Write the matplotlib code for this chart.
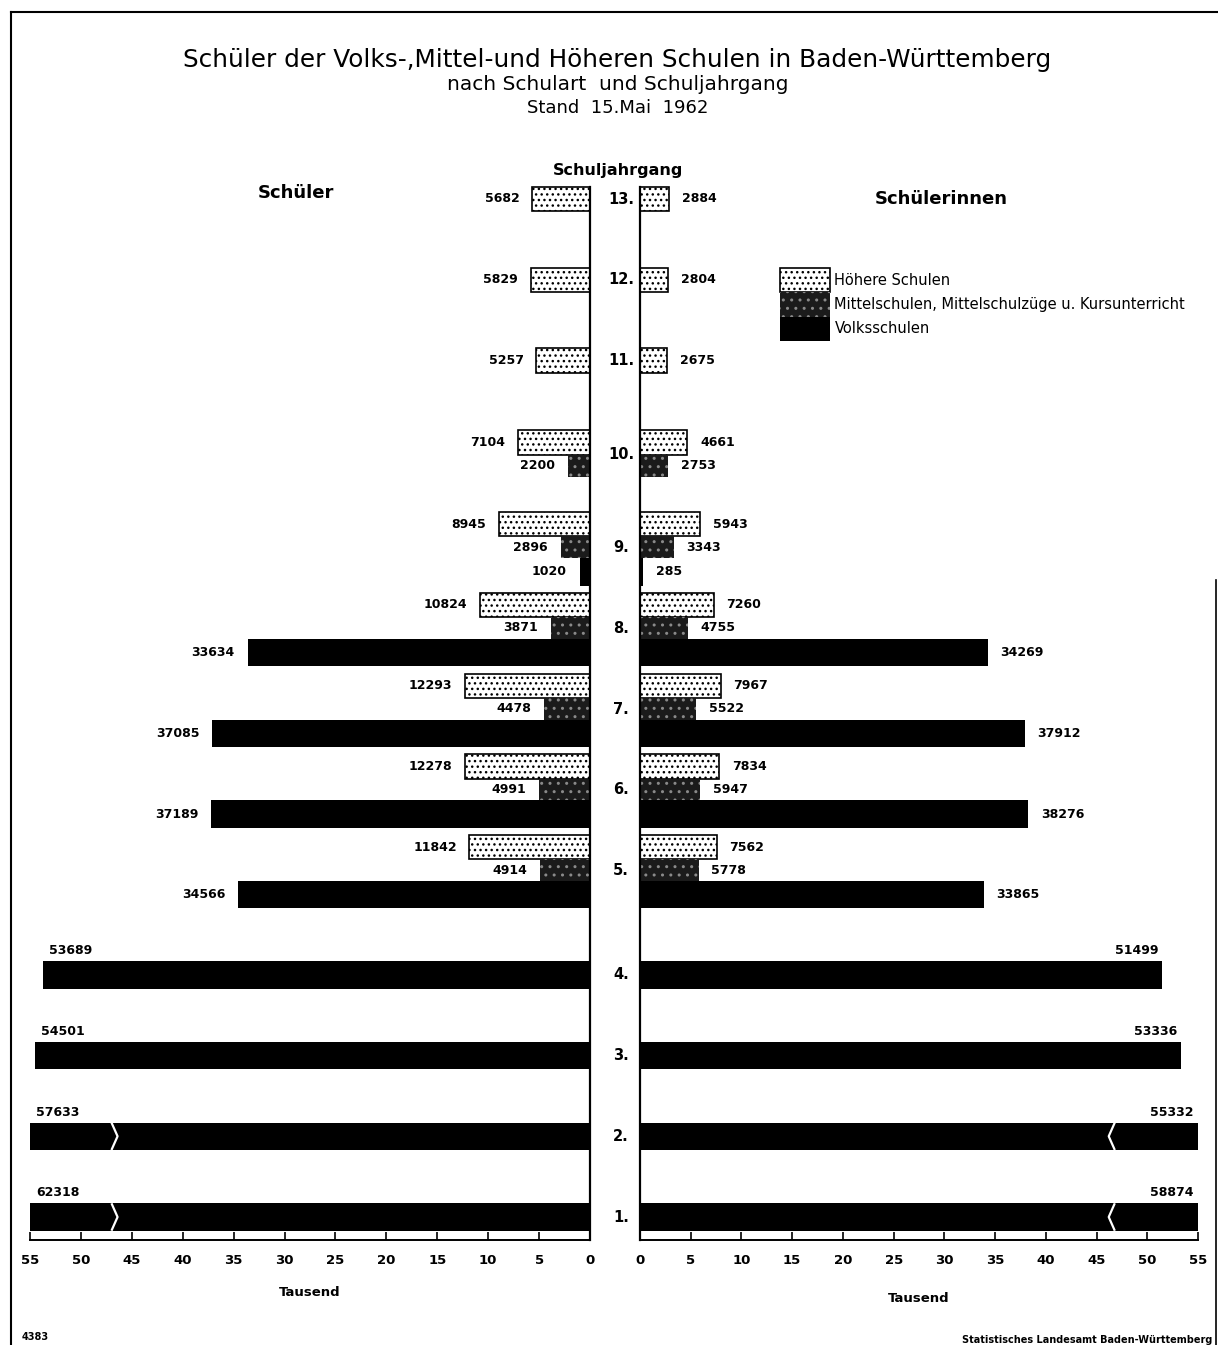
import matplotlib
matplotlib.use("Agg")
import matplotlib.pyplot as plt
from matplotlib.patches import Patch
from matplotlib.lines import Line2D
from matplotlib import transforms

plt.rcParams['font.family'] = ['DejaVu Sans']
plt.rcParams['hatch.linewidth'] = 1.0

# Schuljahrgang, von oben nach unten
grades = [13, 12, 11, 10, 9, 8, 7, 6, 5, 4, 3, 2, 1]

# Schüler (männlich)
boys_hoehere = [5682, 5829, 5257, 7104, 8945, 10824, 12293, 12278, 11842, 0, 0, 0, 0]
boys_mittel = [0, 0, 0, 2200, 2896, 3871, 4478, 4991, 4914, 0, 0, 0, 0]
boys_volks = [0, 0, 0, 0, 1020, 33634, 37085, 37189, 34566, 53689, 54501, 57633, 62318]

# Schülerinnen
girls_hoehere = [2884, 2804, 2675, 4661, 5943, 7260, 7967, 7834, 7562, 0, 0, 0, 0]
girls_mittel = [0, 0, 0, 2753, 3343, 4755, 5522, 5947, 5778, 0, 0, 0, 0]
girls_volks = [0, 0, 0, 0, 285, 34269, 37912, 38276, 33865, 51499, 53336, 55332, 58874]

ticks = [0, 5, 10, 15, 20, 25, 30, 35, 40, 45, 50, 55]
XMAX = 55

# zusaetzlicher Abstand vor einzelnen Jahrgaengen
extra_gap = {10: 0.16, 9: 0.16, 4: 0.29}
pos = []
y = 0.0
for i, g in enumerate(grades):
    if i > 0:
        y += 1 + extra_gap.get(g, 0)
    pos.append(y)

heights = [0.30, 0.27, 0.34]
styles = [
    dict(facecolor='white', edgecolor='black', hatch='...', linewidth=1.2),
    dict(facecolor='#1b1b1b', edgecolor='#8a8a8a', hatch='..', linewidth=0),
    dict(facecolor='black', edgecolor='black', linewidth=0),
]

W, H = 1218, 1345
fig = plt.figure(figsize=(W / 100, H / 100), dpi=100)
ax_l = fig.add_axes([30 / W, 1 - 1240 / H, 560 / W, 1090 / H])
ax_r = fig.add_axes([640 / W, 1 - 1240 / H, 558 / W, 1090 / H])

ylim = ((1240 - 199) / 80.73, (150 - 199) / 80.73)


def draw_side(ax, series, side):
    for gi, g in enumerate(grades):
        vals = [s[gi] for s in series]
        present = [k for k in range(3) if vals[k] > 0]
        tops = []
        t = 0.0
        for k in present:
            tops.append(t)
            t += heights[k]
        centers = [tp + heights[k] / 2 for tp, k in zip(tops, present)]
        shift = pos[gi] - sum(centers) / len(centers)
        for k, c in zip(present, centers):
            yc = c + shift
            v = vals[k] / 1000
            ax.barh(yc, v, height=heights[k], **styles[k])
            lab = str(vals[k])
            if v > 50:
                # Beschriftung oberhalb des Balkens
                ax.text(min(v, XMAX) - (0.6 if side == 'l' else 0.4),
                        yc - heights[k] / 2 - 0.05, lab,
                        ha='left' if side == 'l' else 'right', va='bottom',
                        fontsize=9, fontweight='bold')
            else:
                ax.text(v + 1.25, yc, lab,
                        ha='right' if side == 'l' else 'left', va='center',
                        fontsize=9, fontweight='bold')
            if v > XMAX:
                # Bruchstelle
                bx = 47 if side == 'l' else 46.8
                hh = heights[k] / 2
                ax.plot([bx, bx - 0.6, bx], [yc - hh, yc, yc + hh],
                        color='white', lw=1.6, solid_capstyle='butt')
    top = pos[0] - heights[0] / 2
    ax.plot([0, 0], [top, ylim[0]], color='black', lw=1.6, clip_on=False)


draw_side(ax_l, [boys_hoehere, boys_mittel, boys_volks], 'l')
draw_side(ax_r, [girls_hoehere, girls_mittel, girls_volks], 'r')

for ax, lp in ((ax_l, 14), (ax_r, 18)):
    ax.set_ylim(*ylim)
    ax.set_xlim(0, XMAX)
    for s in ('top', 'left', 'right'):
        ax.spines[s].set_visible(False)
    ax.spines['bottom'].set_linewidth(1.4)
    ax.set_yticks([])
    ax.set_xticks(ticks)
    ax.set_xticklabels([str(t) for t in ticks])
    ax.tick_params(axis='x', direction='in', length=6, width=1.2,
                   labelsize=9.5, pad=10)
    for lab in ax.get_xticklabels():
        lab.set_fontweight('bold')
    ax.set_xlabel('Tausend', fontsize=9.5, fontweight='bold', labelpad=lp)
ax_l.set_xlim(XMAX, 0)

# Jahrgangsbeschriftung in der Mitte
tr = transforms.blended_transform_factory(fig.transFigure, ax_r.transData)
for g, p in zip(grades, pos):
    ax_r.text(621 / W, p, f'{g}.', transform=tr, ha='center', va='center',
              fontsize=10.5, fontweight='bold')

# Legende
handles = [Patch(**styles[0]), Patch(**styles[1]), Patch(**styles[2])]
labels = ['Höhere Schulen', 'Mittelschulen, Mittelschulzüge u. Kursunterricht',
          'Volksschulen']
fig.legend(handles, labels, loc='upper left',
           bbox_to_anchor=(780 / W, 1 - 268 / H), bbox_transform=fig.transFigure,
           frameon=False, fontsize=10.5, borderpad=0, borderaxespad=0,
           handlelength=3.43, handleheight=2.19, labelspacing=0,
           handletextpad=0.3)

# Titel
fig.text(617 / W, 1 - 60 / H,
         'Schüler der Volks-,Mittel-und Höheren Schulen in Baden-Württemberg',
         ha='center', va='center', fontsize=17.8)
fig.text(618 / W, 1 - 85 / H, 'nach Schulart  und Schuljahrgang',
         ha='center', va='center', fontsize=14.5)
fig.text(618 / W, 1 - 108 / H, 'Stand  15.Mai  1962',
         ha='center', va='center', fontsize=13)

fig.text(618 / W, 1 - 170 / H, 'Schuljahrgang', ha='center', va='center',
         fontsize=11.5, fontweight='bold')
fig.text(296 / W, 1 - 193 / H, 'Schüler', ha='center', va='center',
         fontsize=13, fontweight='bold')
fig.text(941 / W, 1 - 199 / H, 'Schülerinnen', ha='center', va='center',
         fontsize=13, fontweight='bold')

fig.text(22 / W, 1 - 1337 / H, '4383', ha='left', va='center',
         fontsize=7, fontweight='bold')
fig.text(1212 / W, 1 - 1340 / H, 'Statistisches Landesamt Baden-Württemberg',
         ha='right', va='center', fontsize=7, fontweight='bold')

# Rahmen
fig.add_artist(Line2D([11 / W, 1], [1 - 12 / H, 1 - 12 / H], color='black', lw=1.5))
fig.add_artist(Line2D([11 / W, 11 / W], [0, 1 - 12 / H], color='black', lw=1.5))
fig.add_artist(Line2D([1216 / W, 1216 / W], [0, 1 - 580 / H], color='black', lw=1.2))

fig.savefig('out.png', dpi=100)
